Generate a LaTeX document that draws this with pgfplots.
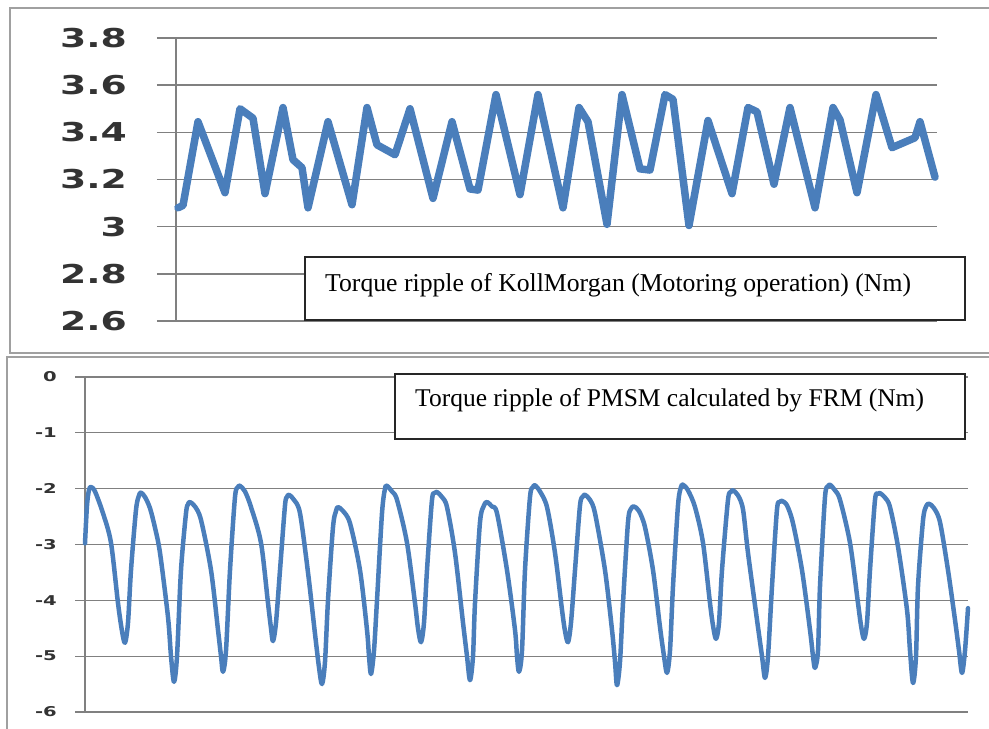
\documentclass[border=0pt]{standalone}
\usepackage{pgfplots}
\pgfplotsset{compat=1.18}
\usepackage{graphicx}
\usepackage{fontspec}
\setmainfont{Liberation Serif}
\newfontfamily\tickfont{DejaVu Sans}
\definecolor{lineblue}{RGB}{74,126,187}
\definecolor{gridgray}{RGB}{128,128,128}
\definecolor{framegray}{RGB}{160,160,160}
\newcommand\W[1]{\scalebox{1.45}[1]{#1}}
\newcommand\V[1]{\scalebox{1.45}[1]{#1}}
\begin{document}
\begin{tikzpicture}[x=1pt,y=1pt]
\useasboundingbox (0,0) rectangle (989,729);
\clip (0,0) rectangle (989,729);
% outer frames
\draw[framegray, line width=1.8pt] (1000,721) -- (10,721) -- (10,376) -- (1000,376);
\draw[framegray, line width=1.8pt] (1000,372) -- (7,372) -- (7,-10);
% ---------------- top chart ----------------
\begin{axis}[
  at={(176pt,408pt)}, anchor=south west, scale only axis,
  width=761pt, height=283pt,
  xmin=176, xmax=937, ymin=2.6, ymax=3.8,
  axis x line=none, axis y line=left,
  y axis line style={-, draw=gridgray, line width=1.5pt},
  ytick={2.6,2.8,3,3.2,3.4,3.6,3.8},
  yticklabels={\W{2.6},\W{2.8},\W{3},\W{3.2},\W{3.4},\W{3.6},\W{3.8}},
  ymajorgrids, major grid style={draw=gridgray, line width=1.5pt},
  tick align=outside, major tick length=19pt,
  ytick style={draw=gridgray, line width=1.5pt},
  yticklabel style={font=\tickfont\bfseries\fontsize{26}{26}\selectfont, text=black!80, anchor=east, inner sep=0pt, xshift=-30pt},
  clip=false,
]
\addplot[lineblue, line width=7.5pt, line join=round, line cap=round] coordinates {
(178,3.08)(183,3.09)(198,3.445)(225,3.144)(240,3.50)(253,3.46)(265,3.14)(283,3.505)
(293,3.284)(302,3.25)(308,3.08)(328,3.445)(352,3.093)(367,3.505)(377,3.347)(395,3.305)
(410,3.50)(433,3.12)(452,3.445)(470,3.16)(478,3.155)(496,3.56)(520,3.136)(538,3.56)
(563,3.08)(579,3.505)(588,3.445)(607,3.01)(622,3.56)(640,3.245)(650,3.24)(665,3.56)
(673,3.54)(689,3.005)(708,3.45)(732,3.14)(748,3.505)(757,3.487)(774,3.18)(790,3.505)
(815,3.08)(833,3.505)(840,3.453)(857,3.144)(876,3.56)(892,3.335)(915,3.377)(920,3.445)
(935,3.21)};
\end{axis}
\draw[black!85, line width=1.2pt, fill=white] (305,472) rectangle (965,409);
\node[anchor=base west, font=\fontsize{25.7}{30}\selectfont, inner sep=0pt] at (325,437) {Torque ripple of KollMorgan (Motoring operation) (Nm)};
% ---------------- bottom chart ----------------
\begin{axis}[
  at={(85pt,17pt)}, anchor=south west, scale only axis,
  width=883pt, height=335pt,
  xmin=85, xmax=968, ymin=-6, ymax=0,
  axis x line=none, axis y line=left,
  y axis line style={-, draw=gridgray, line width=1.1pt},
  ytick={-6,-5,-4,-3,-2,-1,0},
  yticklabels={\V{-6},\V{-5},\V{-4},\V{-3},\V{-2},\V{-1},\V{0}},
  ymajorgrids, major grid style={draw=gridgray, line width=1.1pt},
  tick align=outside, major tick length=10pt,
  ytick style={draw=gridgray, line width=1.1pt},
  yticklabel style={font=\tickfont\bfseries\fontsize{13.5}{14}\selectfont, text=black!80, anchor=east, inner sep=0pt, xshift=-18pt},
  clip=false,
]
\addplot[lineblue, line width=4.5pt, line join=round, line cap=round, smooth, tension=0.5] coordinates {
(85,-2.98)(87,-2.3)(89,-2.02)(91,-1.97)(95,-2.05)(103,-2.44)(111,-2.97)(118,-4.05)(122,-4.55)(125,-4.76)(128,-4.4)(131,-3.46)(136,-2.38)(139,-2.12)(141,-2.07)
(145,-2.15)(150,-2.35)(155,-2.7)(160,-3.15)(168,-4.3)(171,-5.0)(174,-5.46)(177,-5.0)(181,-3.46)(186,-2.44)(188,-2.28)(190,-2.24)
(195,-2.32)(201,-2.56)(211,-3.46)(218,-4.53)(221,-5.0)(223,-5.28)(226,-4.9)(230,-3.46)(235,-2.15)(238,-1.97)(240,-1.95)
(245,-2.05)(251,-2.33)(261,-2.97)(268,-4.05)(271,-4.5)(273,-4.73)(276,-4.4)(280,-3.46)(285,-2.3)(287,-2.15)(289,-2.11)
(294,-2.2)(300,-2.44)(308,-3.5)(315,-4.6)(319,-5.2)(322,-5.5)(325,-5.1)(328,-4.0)(333,-2.69)(336,-2.4)(338,-2.33)
(343,-2.4)(350,-2.62)(360,-3.46)(367,-4.53)(369,-5.0)(371,-5.32)(374,-4.9)(377,-4.0)(382,-2.44)(385,-2.0)(387,-1.95)
(392,-2.05)(397,-2.2)(407,-2.97)(415,-4.05)(418,-4.5)(421,-4.75)(424,-4.4)(427,-3.46)(432,-2.2)(435,-2.08)(437,-2.06)
(442,-2.15)(447,-2.33)(455,-3.15)(463,-4.4)(467,-5.0)(470,-5.43)(473,-5.0)(475,-4.05)(480,-2.6)(484,-2.3)(487,-2.24)
(492,-2.32)(497,-2.44)(507,-3.46)(515,-4.53)(517,-5.0)(519,-5.28)(522,-4.9)(525,-3.46)(530,-2.15)(533,-1.97)(535,-1.94)
(540,-2.05)(547,-2.33)(555,-3.15)(562,-4.17)(565,-4.55)(568,-4.75)(571,-4.4)(575,-3.46)(580,-2.3)(583,-2.14)(585,-2.11)
(590,-2.2)(595,-2.44)(605,-3.46)(612,-4.53)(615,-5.1)(617,-5.52)(620,-5.1)(623,-4.05)(628,-2.6)(631,-2.36)(634,-2.32)
(639,-2.4)(645,-2.69)(653,-3.46)(660,-4.48)(664,-5.0)(667,-5.3)(670,-4.9)(673,-3.75)(678,-2.3)(681,-1.97)(683,-1.93)
(688,-2.03)(695,-2.33)(703,-2.97)(710,-4.05)(713,-4.45)(716,-4.69)(719,-4.4)(722,-3.46)(728,-2.2)(731,-2.06)(733,-2.03)
(738,-2.12)(743,-2.37)(748,-3.15)(757,-4.35)(762,-5.0)(765,-5.39)(768,-5.0)(772,-3.75)(777,-2.37)(780,-2.24)(782,-2.22)
(787,-2.3)(793,-2.62)(802,-3.46)(810,-4.53)(813,-5.0)(815,-5.21)(818,-4.9)(820,-3.75)(825,-2.15)(828,-1.96)(830,-1.93)
(835,-2.03)(840,-2.2)(850,-2.97)(858,-4.05)(861,-4.45)(864,-4.69)(867,-4.4)(870,-3.46)(875,-2.2)(878,-2.1)(880,-2.08)
(885,-2.16)(890,-2.33)(898,-3.04)(907,-4.17)(910,-4.9)(913,-5.48)(916,-5.0)(918,-3.75)(923,-2.57)(926,-2.32)(929,-2.27)
(934,-2.35)(940,-2.6)(948,-3.46)(955,-4.35)(959,-4.9)(962,-5.3)(965,-4.9)(968,-4.14)};
\end{axis}
\draw[black!85, line width=1.2pt, fill=white] (395,355) rectangle (965,290);
\node[anchor=base west, font=\fontsize{25.5}{30}\selectfont, inner sep=0pt] at (415,322) {Torque ripple of PMSM calculated by FRM (Nm)};
\end{tikzpicture}
\end{document}
